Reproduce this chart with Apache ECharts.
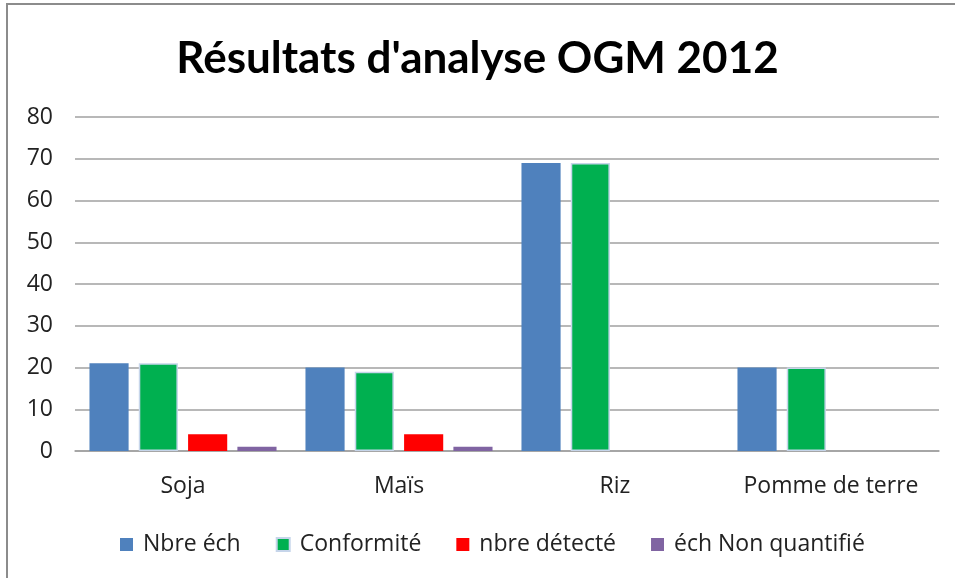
<!DOCTYPE html>
<html><head><meta charset="utf-8">
<script src="https://cdn.jsdelivr.net/npm/echarts@6/dist/echarts.min.js"></script>
<style>html,body{margin:0;padding:0;background:#fff}#c{width:955px;height:578px}</style>
</head><body><div id="c"></div>
<script>
const categories = ['Soja', 'Maïs', 'Riz', 'Pomme de terre'];
const nbreEch = [21, 20, 69, 20];
const conformite = [21, 19, 69, 20];
const nbreDetecte = [4, 4, 0, 0];
const echNonQuantifie = [1, 1, 0, 0];
const seriesNames = ['Nbre éch', 'Conformité', 'nbre détecté', 'éch Non quantifié'];
const yTicks = [0, 10, 20, 30, 40, 50, 60, 70, 80];

const font = '"Open Sans", Lato, sans-serif';
const chart = echarts.init(document.getElementById('c'), null, {renderer: 'canvas'});
const colors = ['#4F81BD', '#00B050', '#FF0000', '#8064A2'];
const values = [nbreEch, conformite, nbreDetecte, echNonQuantifie];
chart.setOption({
  animation: false,
  color: colors,
  graphic: [{type: 'rect', shape: {x: 7, y: 4, width: 960, height: 600}, style: {fill: 'none', stroke: '#8c8c8c', lineWidth: 2}, silent: true, z: -1}],
  title: {text: "Résultats d'analyse OGM 2012", left: 'center', top: 32,
    textStyle: {fontFamily: 'Lato, sans-serif', fontWeight: 'bold', fontSize: 44, color: '#000'}},
  legend: {bottom: 17, left: 115, itemWidth: 13, itemHeight: 13, itemGap: 35,
    icon: 'rect', textStyle: {fontFamily: font, fontSize: 23, color: '#222', padding: [0, 0, 0, 5]},
    data: seriesNames},
  grid: {left: 75, right: 16, top: 117, bottom: 127},
  xAxis: {type: 'category', data: categories,
    axisLine: {lineStyle: {color: '#a0a0a0', width: 1.5}}, axisTick: {show: false},
    axisLabel: {fontFamily: font, fontSize: 23, color: '#222', margin: 24, interval: 0}},
  yAxis: {type: 'value', min: yTicks[0], max: yTicks[yTicks.length - 1], interval: 10,
    axisLine: {show: false}, axisTick: {show: false},
    splitLine: {lineStyle: {color: '#a0a0a0', width: 1.5}},
    axisLabel: {fontFamily: font, fontSize: 23, color: '#222', margin: 22}},
  series: seriesNames.map((n, i) => ({
    name: n, type: 'bar', data: values[i], barGap: '26%', barCategoryGap: '13.4%',
    itemStyle: i === 1 ? {borderColor: '#c6d5ea', borderWidth: 1.5} : {}
  }))
});
</script></body></html>
